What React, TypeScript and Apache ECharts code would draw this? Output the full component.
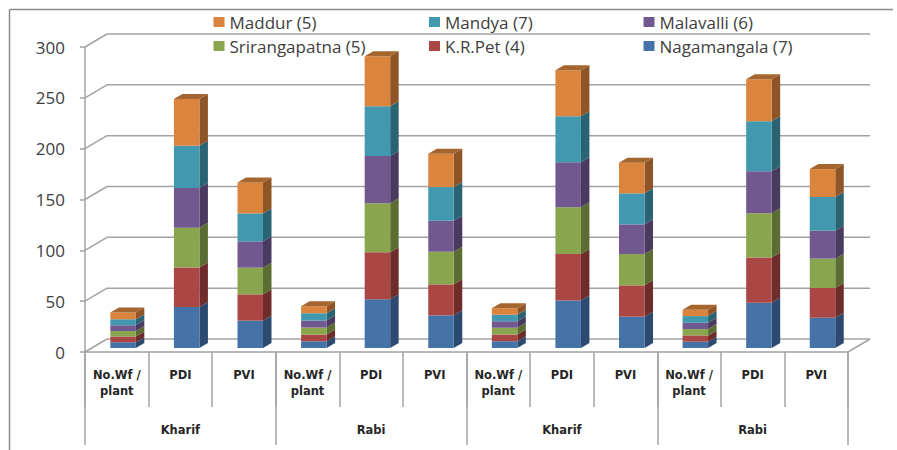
import React, { useEffect, useRef } from "react";
import * as echarts from "echarts";

const categories = ["No.Wf /\nplant", "PDI", "PVI", "No.Wf /\nplant", "PDI", "PVI", "No.Wf /\nplant", "PDI", "PVI", "No.Wf /\nplant", "PDI", "PVI"];
const groups = ["Kharif", "Rabi", "Kharif", "Rabi"];
const yTicks = [0, 50, 100, 150, 200, 250, 300];

const nagamangala = [5.6, 40.3, 26.9, 6.6, 47.9, 32.1, 6.6, 46.6, 30.8, 6.2, 44.6, 29.8];
const krPet = [5.6, 39, 25.9, 6.6, 46.2, 30.5, 6.6, 45.9, 30.8, 6.2, 44.3, 29.2];
const srirangapatna = [5.6, 39, 26.2, 6.9, 48.2, 32.1, 6.6, 45.9, 30.8, 6.2, 43.6, 28.9];
const malavalli = [5.5, 39, 25.9, 6.9, 46.6, 30.5, 6.6, 44.3, 29.2, 6.2, 41.3, 27.5];
const mandya = [5.9, 41.6, 27.5, 7.2, 48.9, 33.1, 6.2, 45.2, 30.5, 6.6, 49.2, 33.1];
const maddur = [6.6, 45.9, 30.5, 6.9, 49.2, 32.8, 6.6, 45.2, 30.2, 6.2, 41.3, 27.5];

const stackOrder = [
  { name: "Nagamangala (7)", values: nagamangala, front: "#4572A7", side: "#2C4A70" },
  { name: "K.R.Pet (4)", values: krPet, front: "#AA4643", side: "#6E2C2B" },
  { name: "Srirangapatna (5)", values: srirangapatna, front: "#89A54E", side: "#5B6D33" },
  { name: "Malavalli (6)", values: malavalli, front: "#71588F", side: "#4A3A60" },
  { name: "Mandya (7)", values: mandya, front: "#4198AF", side: "#2A6374" },
  { name: "Maddur (5)", values: maddur, front: "#DB843D", side: "#8F5527" },
];
const topFace = "#A5652E";
const lineColor = "#A3A3A3";
const textColor = "#404040";

// projection of the 3D box
const wallDx = 22;
const wallDy = -13;
const barDx = 6.3;
const barDy = -4;
const barW = 25.5;
const sideDx = 8.5;
const sideDy = -5;

const sum = (arrs: number[][], i: number) => arrs.reduce((s, a) => s + a[i], 0);

export default function App() {
  const ref = useRef<HTMLDivElement>(null);
  useEffect(() => {
    const chart = echarts.init(ref.current!, null, { renderer: "svg" });

    const barSeries = stackOrder.map((s, si) => ({
      type: "custom",
      name: s.name,
      xAxisIndex: 0,
      yAxisIndex: 0,
      z: 3,
      clip: false,
      itemStyle: { color: s.front },
      encode: { x: 0, y: [1, 2] },
      data: s.values.map((v, i) => {
        const start = sum(stackOrder.slice(0, si).map((o) => o.values), i);
        return [i, start, start + v];
      }),
      renderItem: (_p: any, api: any) => {
        const c0 = api.coord([api.value(0), api.value(1)]);
        const c1 = api.coord([api.value(0), api.value(2)]);
        const xl = c0[0] + barDx - barW / 2;
        const xr = xl + barW;
        const yb = c0[1] + barDy;
        const yt = c1[1] + barDy;
        const children: any[] = [
          {
            type: "polygon",
            shape: { points: [[xr, yb], [xr, yt], [xr + sideDx, yt + sideDy], [xr + sideDx, yb + sideDy]] },
            style: { fill: s.side },
          },
          {
            type: "rect",
            shape: { x: xl, y: yt, width: barW, height: yb - yt },
            style: { fill: s.front },
          },
        ];
        if (si === stackOrder.length - 1) {
          children.push({
            type: "polygon",
            shape: { points: [[xl, yt], [xr, yt], [xr + sideDx, yt + sideDy], [xl + sideDx, yt + sideDy]] },
            style: { fill: topFace },
          });
        }
        return { type: "group", children };
      },
    }));

    const wallSeries = {
      type: "custom",
      name: "wall",
      xAxisIndex: 0,
      yAxisIndex: 0,
      z: 1,
      clip: false,
      silent: true,
      encode: { y: 0 },
      data: yTicks.map((t) => [t]),
      renderItem: (p: any, api: any) => {
        const v = api.value(0);
        const y = api.coord([0, v])[1];
        const x0 = p.coordSys.x;
        const x1 = x0 + p.coordSys.width;
        const style = { stroke: lineColor, lineWidth: 1.5, fill: "none" };
        const children: any[] = [
          { type: "line", shape: { x1: x0, y1: y, x2: x0 + wallDx, y2: y + wallDy }, style },
          { type: "line", shape: { x1: x0 + wallDx, y1: y + wallDy, x2: x1 + wallDx, y2: y + wallDy }, style },
        ];
        if (v === 0) {
          children.push({ type: "line", shape: { x1, y1: y, x2: x1 + wallDx, y2: y + wallDy }, style });
        }
        return { type: "group", children };
      },
    };

    const legendBase = {
      orient: "vertical",
      top: 13.5,
      padding: 0,
      z: 10,
      itemWidth: 11,
      itemHeight: 10,
      itemGap: 7,
      icon: "rect",
      selectedMode: false,
      textStyle: { fontFamily: "Open Sans", fontSize: 17, color: textColor },
    };

    chart.setOption({
      animation: false,
      backgroundColor: "#fff",
      grid: { left: 85, right: 49, top: 47, bottom: 98, containLabel: false },
      legend: [
        { ...legendBase, left: 213.5, data: ["Maddur (5)", "Srirangapatna (5)"] },
        { ...legendBase, left: 429, data: ["Mandya (7)", "K.R.Pet (4)"] },
        { ...legendBase, left: 643.5, data: ["Malavalli (6)", "Nagamangala (7)"] },
      ],
      xAxis: [
        {
          type: "category",
          data: categories,
          position: "bottom",
          axisLine: { show: true, lineStyle: { color: lineColor, width: 1.5 } },
          axisTick: { show: true, length: 55, interval: 0, lineStyle: { color: lineColor, width: 1.5 } },
          axisLabel: {
            interval: 0,
            margin: 15,
            lineHeight: 16,
            verticalAlign: "top",
            fontFamily: "DejaVu Sans",
            fontWeight: "bold",
            fontSize: 11.5,
            color: "#262626",
            hideOverlap: false,
          },
        },
        {
          type: "category",
          data: groups,
          position: "bottom",
          axisLine: { show: false },
          axisTick: { show: true, length: 93, interval: 0, lineStyle: { color: lineColor, width: 1.5 } },
          axisLabel: {
            interval: 0,
            margin: 72,
            verticalAlign: "top",
            fontFamily: "DejaVu Sans",
            fontWeight: "bold",
            fontSize: 11.5,
            color: "#262626",
          },
        },
      ],
      yAxis: {
        type: "value",
        min: 0,
        max: 300,
        interval: 50,
        axisLine: { show: true, lineStyle: { color: lineColor, width: 1.5 } },
        axisTick: { show: true, length: 5, lineStyle: { color: lineColor, width: 1.5 } },
        splitLine: { show: false },
        axisLabel: { margin: 20, fontFamily: "Open Sans", fontSize: 17, color: textColor },
      },
      graphic: [
        { type: "line", shape: { x1: 9.5, y1: 9.5, x2: 893, y2: 9.5 }, style: { stroke: "#8C8C8C", lineWidth: 1.5 } },
        { type: "line", shape: { x1: 9.5, y1: 9.5, x2: 9.5, y2: 450 }, style: { stroke: "#8C8C8C", lineWidth: 1.5 } },
      ],
      series: [wallSeries, ...barSeries],
    });
    return () => chart.dispose();
  }, []);
  return <div ref={ref} style={{ position: "absolute", left: 0, top: 0, width: 897, height: 450 }} />;
}
